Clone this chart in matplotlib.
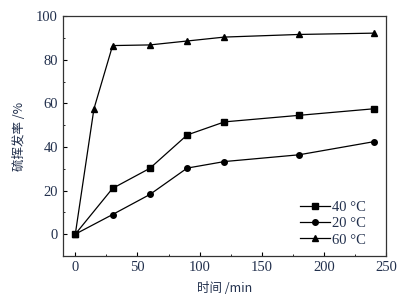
import matplotlib.pyplot as plt
from matplotlib.ticker import MultipleLocator

plt.rcParams['font.family'] = ['Liberation Serif', 'Noto Sans CJK SC']

time_40 = [0, 30, 60, 90, 120, 180, 240]
rate_40 = [0, 21, 30.2, 45.5, 51.5, 54.5, 57.5]
time_20 = [0, 30, 60, 90, 120, 180, 240]
rate_20 = [0, 9, 18.2, 30.3, 33.3, 36.4, 42.4]
time_60 = [0, 15, 30, 60, 90, 120, 180, 240]
rate_60 = [0, 57.5, 86.5, 86.8, 88.6, 90.4, 91.6, 92.2]
labels = ['40 °C', '20 °C', '60 °C']

text_color = '#22304d'

fig = plt.figure(figsize=(4.03, 2.99), dpi=100)
ax = fig.add_axes([0.156, 0.144, 0.802, 0.802])

ax.plot(time_40, rate_40, '-s', color='black', lw=0.9, ms=4, label=labels[0])
ax.plot(time_20, rate_20, '-o', color='black', lw=0.9, ms=4, label=labels[1])
ax.plot(time_60, rate_60, '-^', color='black', lw=0.9, ms=4.5, label=labels[2])

ax.set_xlim(-10, 250)
ax.set_ylim(-10, 100)
ax.xaxis.set_major_locator(MultipleLocator(50))
ax.xaxis.set_minor_locator(MultipleLocator(25))
ax.yaxis.set_major_locator(MultipleLocator(20))
ax.yaxis.set_minor_locator(MultipleLocator(10))
ax.tick_params(which='both', direction='in', top=False, right=False,
               labelsize=10.5, labelcolor=text_color)
ax.tick_params(which='major', length=3)
ax.tick_params(which='minor', length=1.5)
for s in ax.spines.values():
    s.set_linewidth(0.9)
    s.set_color('#333333')

ax.set_xlabel('时间 /min', fontsize=9, color=text_color, labelpad=6,
              family=['Noto Sans CJK SC', 'Liberation Serif'])
ax.set_ylabel('硫挥发率 /%', fontsize=9, color=text_color, labelpad=7,
              family=['Noto Sans CJK SC', 'Liberation Serif'])

ax.legend(loc='lower right', bbox_to_anchor=(0.955, 0.015), frameon=False,
          fontsize=10.5, handlelength=2.1, handletextpad=0.1,
          labelspacing=0.2, borderaxespad=0, labelcolor=text_color)

fig.savefig('out.png', dpi=100)
